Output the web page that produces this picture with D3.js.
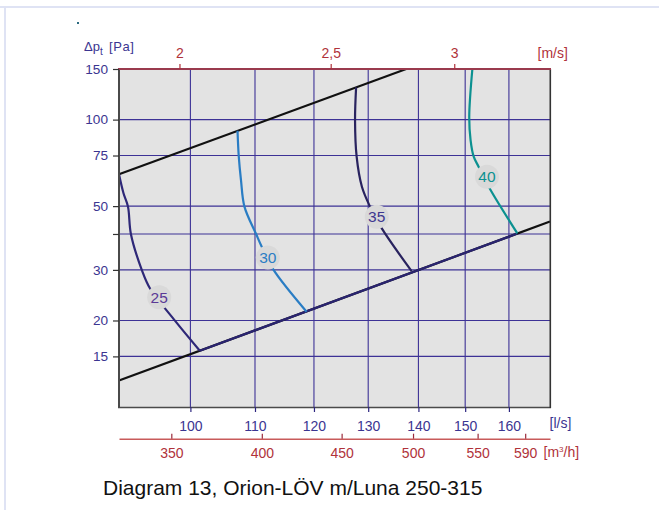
<!DOCTYPE html>
<html><head><meta charset="utf-8">
<script src="https://cdn.jsdelivr.net/npm/d3@7"></script>
<style>
html,body{margin:0;padding:0;background:#fff;}
svg{display:block;font-family:"Liberation Sans",Arial,Helvetica,sans-serif;}
</style></head><body>
<svg id="c" width="659" height="510"></svg>
<script>
// ---- data ----
const flowTicks = [100, 110, 120, 130, 140, 150, 160];          // l/s
const m3hTicks = [350, 400, 450, 500, 550, 590];                 // m3/h
const velTicks = [2, 2.5, 3];                                    // m/s
const velLabels = ["2", "2,5", "3"];
const paTicks = [15, 20, 30, 40, 50, 75, 100, 150];
const paLabels = ["15", "20", "30", "", "50", "75", "100", "150"];
const paGrid = [15, 20, 30, 40, 50, 75, 100];

const upperQ = [90, 137.5], upperP = [64.5, 150];
const lowerQ = [90, 170], lowerP = [12.36, 44.2];

const levels = ["25", "30", "35", "40"];
const q25 = [90, 90.6, 91.2, 91.6, 93.1, 94.2, 97.8, 101.4];
const p25 = [64.5, 55.4, 49.8, 39.9, 29.9, 25.9, 19.9, 15.7];
const q30 = [107.2, 107.4, 107.75, 108.3, 110.2, 111.1, 113.0, 118.7];
const p30 = [91.5, 74.3, 61.6, 49.8, 39.9, 36.1, 30.1, 21.45];
const q35 = [127.7, 127.5, 127.8, 128.8, 130.35, 132.6, 138.6];
const p35 = [129.5, 99.7, 74.3, 58.4, 49.8, 41.9, 29.7];
const q40 = [151.6, 150.9, 151.2, 151.9, 153.0, 155.5, 162.0];
const p40 = [150, 102.3, 84.9, 74.3, 68.6, 57.7, 40.2];
const labelQ = [95.5, 112.1, 131.65, 154.9];
const labelP = [24.1, 33.1, 45.9, 63.3];

const LS_PER_MS = 49.2;   // duct: l/s per 1 m/s
const M3H_PER_LS = 3.6;

// ---- styles ----
const lineColors = ["#2e2878", "#2a7dc4", "#29235f", "#0c9191"];
const textColors = ["#5b3a96", "#2a7dc4", "#3d3790", "#0c9191"];
const navy = "#3b3591", red = "#b0323a";

const svg = d3.select("#c");
const x = d3.scaleLog().domain([90, 170]).range([119, 550]);
const y = d3.scaleLog().domain([10, 150]).range([407, 69]);
const xv = d3.scaleLog().domain([90 / LS_PER_MS, 170 / LS_PER_MS]).range([119, 550]);
const xm = d3.scaleLog().domain([90 * M3H_PER_LS, 170 * M3H_PER_LS]).range([119, 550]);

// page frame
svg.append("line").attr("x1", 0).attr("x2", 659).attr("y1", 7).attr("y2", 7)
  .attr("stroke", "#dfe3f4").attr("stroke-width", 2);
svg.append("line").attr("x1", 5).attr("x2", 5).attr("y1", 7).attr("y2", 510)
  .attr("stroke", "#dfe3f4").attr("stroke-width", 2);
svg.append("rect").attr("x", 77).attr("y", 22).attr("width", 2).attr("height", 2).attr("fill", "#2b6a80");

// plot background
svg.append("rect").attr("x", x.range()[0]).attr("y", y.range()[1])
  .attr("width", x.range()[1] - x.range()[0]).attr("height", y.range()[0] - y.range()[1])
  .attr("fill", "#e3e3e3");

// grid
svg.append("g").selectAll("line").data(flowTicks).join("line")
  .attr("x1", d => x(d)).attr("x2", d => x(d)).attr("y1", y.range()[1]).attr("y2", y.range()[0])
  .attr("stroke", "#3d3296").attr("stroke-width", 1.1);
svg.append("g").selectAll("line").data(paGrid).join("line")
  .attr("x1", x.range()[0]).attr("x2", x.range()[1]).attr("y1", d => y(d)).attr("y2", d => y(d))
  .attr("stroke", "#3d3296").attr("stroke-width", 1.1);

// system lines
const pairs = (qs, ps) => qs.map((q, i) => [q, ps[i]]);
const line = d3.line().x(d => x(d[0])).y(d => y(d[1]));
svg.append("path").attr("d", line(pairs(upperQ, upperP))).attr("fill", "none")
  .attr("stroke", "#111").attr("stroke-width", 2.2);
svg.append("path").attr("d", line(pairs(lowerQ, lowerP))).attr("fill", "none")
  .attr("stroke", "#111").attr("stroke-width", 2.2);
// coloured overlay on lower line between 25 and 40 end points
const lowerAt = q => lowerP[0] * Math.pow(q / lowerQ[0], Math.log(lowerP[1] / lowerP[0]) / Math.log(lowerQ[1] / lowerQ[0]));
svg.append("path").attr("d", line([[q25[q25.length - 1], lowerAt(q25[q25.length - 1])], [q40[q40.length - 1], lowerAt(q40[q40.length - 1])]]))
  .attr("fill", "none").attr("stroke", "#2a2470").attr("stroke-width", 2.2);

// noise curves
const curveLine = d3.line().x(d => x(d[0])).y(d => y(d[1])).curve(d3.curveCatmullRom.alpha(0.5));
const curves = [pairs(q25, p25), pairs(q30, p30), pairs(q35, p35), pairs(q40, p40)];
svg.append("g").selectAll("path").data(curves).join("path")
  .attr("d", d => curveLine(d)).attr("fill", "none")
  .attr("stroke", (d, i) => lineColors[i]).attr("stroke-width", 2.2);

// labels
const lg = svg.append("g").selectAll("g").data(levels).join("g")
  .attr("transform", (d, i) => `translate(${x(labelQ[i])},${y(labelP[i])})`);
lg.append("circle").attr("r", 12).attr("fill", "#d9d9d9");
lg.append("text").attr("text-anchor", "middle").attr("dy", "0.36em")
  .attr("font-size", "15.5px").attr("fill", (d, i) => textColors[i]).text(d => d);

// plot borders
svg.append("line").attr("x1", 119).attr("x2", 119).attr("y1", 69).attr("y2", 408)
  .attr("stroke", "#4a4a4a").attr("stroke-width", 2);
svg.append("line").attr("x1", 118).attr("x2", 551).attr("y1", 407.5).attr("y2", 407.5)
  .attr("stroke", "#4a4a4a").attr("stroke-width", 1.6);
svg.append("line").attr("x1", 550.3).attr("x2", 550.3).attr("y1", 69).attr("y2", 408)
  .attr("stroke", "#333").attr("stroke-width", 1.6);
svg.append("line").attr("x1", 118).attr("x2", 551).attr("y1", 69).attr("y2", 69)
  .attr("stroke", "#9a3a4e").attr("stroke-width", 2);

// axes
const fs = "14px";
const topAx = svg.append("g").attr("transform", "translate(0,69)")
  .call(d3.axisTop(xv).tickValues(velTicks).tickSize(5).tickPadding(6).tickFormat((d, i) => velLabels[i]));
topAx.select(".domain").remove();
topAx.selectAll("line").attr("stroke", red).attr("stroke-width", 1.2);
topAx.selectAll("text").attr("fill", red).attr("font-size", fs).attr("font-family", null);

const leftAx = svg.append("g").attr("transform", "translate(119,0)")
  .call(d3.axisLeft(y).tickValues(paTicks).tickSize(6).tickPadding(5).tickFormat((d, i) => paLabels[i]));
leftAx.select(".domain").remove();
leftAx.selectAll("line").attr("stroke", "#333").attr("stroke-width", 1.2);
leftAx.selectAll("text").attr("fill", navy).attr("font-size", "13.6px").attr("font-family", null);

const botAx = svg.append("g").attr("transform", "translate(0,407)")
  .call(d3.axisBottom(x).tickValues(flowTicks).tickSize(5).tickPadding(9.5).tickFormat(d3.format("d")));
botAx.select(".domain").remove();
botAx.selectAll("line").attr("stroke", "#2d2680").attr("stroke-width", 1.2);
botAx.selectAll("text").attr("fill", navy).attr("font-size", fs).attr("font-family", null);

const m3Ax = svg.append("g").attr("transform", "translate(0,438.7)")
  .call(d3.axisBottom(xm).tickValues(m3hTicks).tickSize(-5).tickSizeOuter(0).tickPadding(9).tickFormat(d3.format("d")));
m3Ax.select(".domain").attr("stroke", "#c85a5a").attr("stroke-width", 1.6);
m3Ax.selectAll("line").attr("stroke", "#9a2a3a").attr("stroke-width", 1.2);
m3Ax.selectAll("text").attr("fill", red).attr("font-size", fs).attr("font-family", null);

// unit labels
svg.append("text").attr("x", 537.5).attr("y", 58).attr("fill", red).attr("font-size", fs).text("[m/s]");
svg.append("text").attr("x", 549.5).attr("y", 428).attr("fill", navy).attr("font-size", fs).text("[l/s]");
const u3 = svg.append("text").attr("x", 543.5).attr("y", 457.3).attr("fill", red).attr("font-size", fs);
u3.append("tspan").text("[m");
u3.append("tspan").attr("font-size", "8px").attr("dy", "-5").text("3");
u3.append("tspan").attr("dy", "5").text("/h]");

const yt = svg.append("text").attr("x", 84).attr("y", 50.7).attr("fill", navy).attr("font-size", "13px");
yt.append("tspan").text("Δp");
yt.append("tspan").attr("font-size", "10px").attr("dy", "4").text("t");
yt.append("tspan").attr("dy", "-4").attr("dx", "2").attr("letter-spacing", "0.6").text(" [Pa]");

// caption
svg.append("text").attr("x", 103).attr("y", 495).attr("fill", "#111").attr("font-size", "21px")
  .text("Diagram 13, Orion-LÖV m/Luna 250-315");
</script>
</body></html>
